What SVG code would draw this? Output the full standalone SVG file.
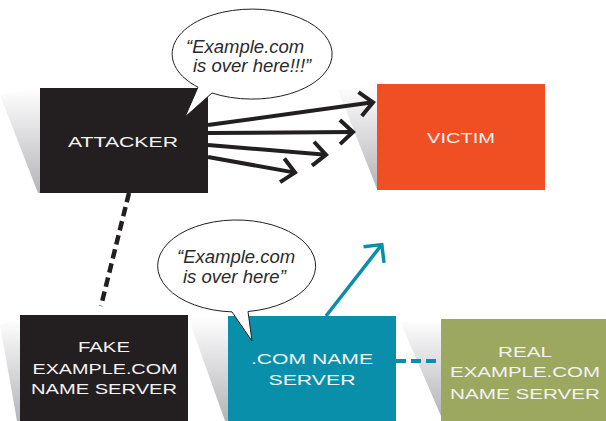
<svg xmlns="http://www.w3.org/2000/svg" width="606" height="421" viewBox="0 0 606 421">
  <style>
    .box-text { font-family: "Liberation Sans", Arial, sans-serif; font-size: 15.5px; fill: #f2f2f2; text-anchor: middle; }
    .quote { font-family: "Liberation Sans", Arial, sans-serif; font-style: italic; font-size: 18.5px; fill: #2b2b2b; }
    .bubble { fill: #ffffff; stroke: #231f20; stroke-width: 1; stroke-linejoin: miter; }
    .shadow { fill: url(#shade); }
    .arrow { fill: none; stroke: #231f20; stroke-width: 4; marker-end: url(#chevron); }
  </style>
  <defs>
    <linearGradient id="shade" x1="0" y1="0" x2="0" y2="1">
      <stop offset="0" stop-color="#ffffff"/>
      <stop offset="1" stop-color="#b4b4b9"/>
    </linearGradient>
    <marker id="chevron" markerUnits="userSpaceOnUse" viewBox="-20 -16 26 32" refX="0" refY="0" markerWidth="26" markerHeight="32" orient="auto">
      <path d="M-13,-12 L0,0 L-13,12" fill="none" stroke="#231f20" stroke-width="4"/>
    </marker>
    <marker id="chevron-teal" markerUnits="userSpaceOnUse" viewBox="-20 -16 26 32" refX="0" refY="0" markerWidth="26" markerHeight="32" orient="auto">
      <path d="M-13,-13 L0,0 L-13,13" fill="none" stroke="#0a8fab" stroke-width="3.5"/>
    </marker>
  </defs>

  <!-- drop shades behind the boxes -->
  <g id="shades">
    <polygon class="shadow" points="0,95 40,88 40,193 38,193"/>
    <polygon class="shadow" points="338,90 377,85 377,189"/>
    <polygon class="shadow" points="0,325 20,318 20,421 17,421"/>
    <polygon class="shadow" points="188,317 228,317 228,421 225,421"/>
    <polygon class="shadow" points="400,321 441,319 441,416"/>
  </g>

  <g id="attacker">
    <rect x="40" y="88" width="168" height="105" fill="#231f20"/>
    <text class="box-text" x="123" y="147" textLength="110" lengthAdjust="spacingAndGlyphs">ATTACKER</text>
  </g>

  <g id="victim">
    <rect x="377" y="84" width="168" height="106" fill="#f04f23"/>
    <text class="box-text" x="461" y="143" textLength="68" lengthAdjust="spacingAndGlyphs">VICTIM</text>
  </g>

  <g id="fake-server">
    <rect x="20" y="315" width="168" height="110" fill="#231f20"/>
    <text class="box-text" x="104" y="352" textLength="52" lengthAdjust="spacingAndGlyphs">FAKE</text>
    <text class="box-text" x="105" y="374" textLength="145" lengthAdjust="spacingAndGlyphs">EXAMPLE.COM</text>
    <text class="box-text" x="104" y="394" textLength="146" lengthAdjust="spacingAndGlyphs">NAME SERVER</text>
  </g>

  <g id="com-server">
    <rect x="228" y="316" width="168" height="110" fill="#0a8fab"/>
    <text class="box-text" x="312" y="364" textLength="122" lengthAdjust="spacingAndGlyphs">.COM NAME</text>
    <text class="box-text" x="312" y="385" textLength="87" lengthAdjust="spacingAndGlyphs">SERVER</text>
  </g>

  <g id="real-server">
    <rect x="441" y="319" width="170" height="110" fill="#9ca760"/>
    <text class="box-text" x="525" y="357" textLength="54" lengthAdjust="spacingAndGlyphs">REAL</text>
    <text class="box-text" x="525" y="377" textLength="150" lengthAdjust="spacingAndGlyphs">EXAMPLE.COM</text>
    <text class="box-text" x="525" y="399" textLength="150" lengthAdjust="spacingAndGlyphs">NAME SERVER</text>
  </g>

  <g id="connectors">
    <line class="arrow" x1="208" y1="125" x2="373" y2="102.3"/>
    <line class="arrow" x1="208" y1="133" x2="353" y2="132"/>
    <line class="arrow" x1="208" y1="145" x2="326" y2="154.8"/>
    <line class="arrow" x1="208" y1="157" x2="295" y2="172.6"/>
    <line x1="129" y1="193" x2="101" y2="306" stroke="#231f20" stroke-width="4.5" stroke-dasharray="9.5 5"/>
    <line x1="326" y1="316" x2="381.8" y2="244.6" stroke="#0a8fab" stroke-width="3.5" marker-end="url(#chevron-teal)"/>
    <line x1="396" y1="361" x2="441" y2="361" stroke="#0a8fab" stroke-width="4" stroke-dasharray="10 5"/>
  </g>

  <g id="bubble-attacker">
    <path class="bubble" d="M212,93 A80,45 0 1 0 198,87.2 L185,117 Z"/>
    <text class="quote" x="186" y="53">“Example.com</text>
    <text class="quote" x="193" y="72">is over here!!!”</text>
  </g>

  <g id="bubble-com">
    <path class="bubble" d="M248,311.5 A79,46 0 1 0 232,311.9 L252,341 Z"/>
    <text class="quote" x="177" y="263">“Example.com</text>
    <text class="quote" x="183" y="283">is over here”</text>
  </g>
</svg>
